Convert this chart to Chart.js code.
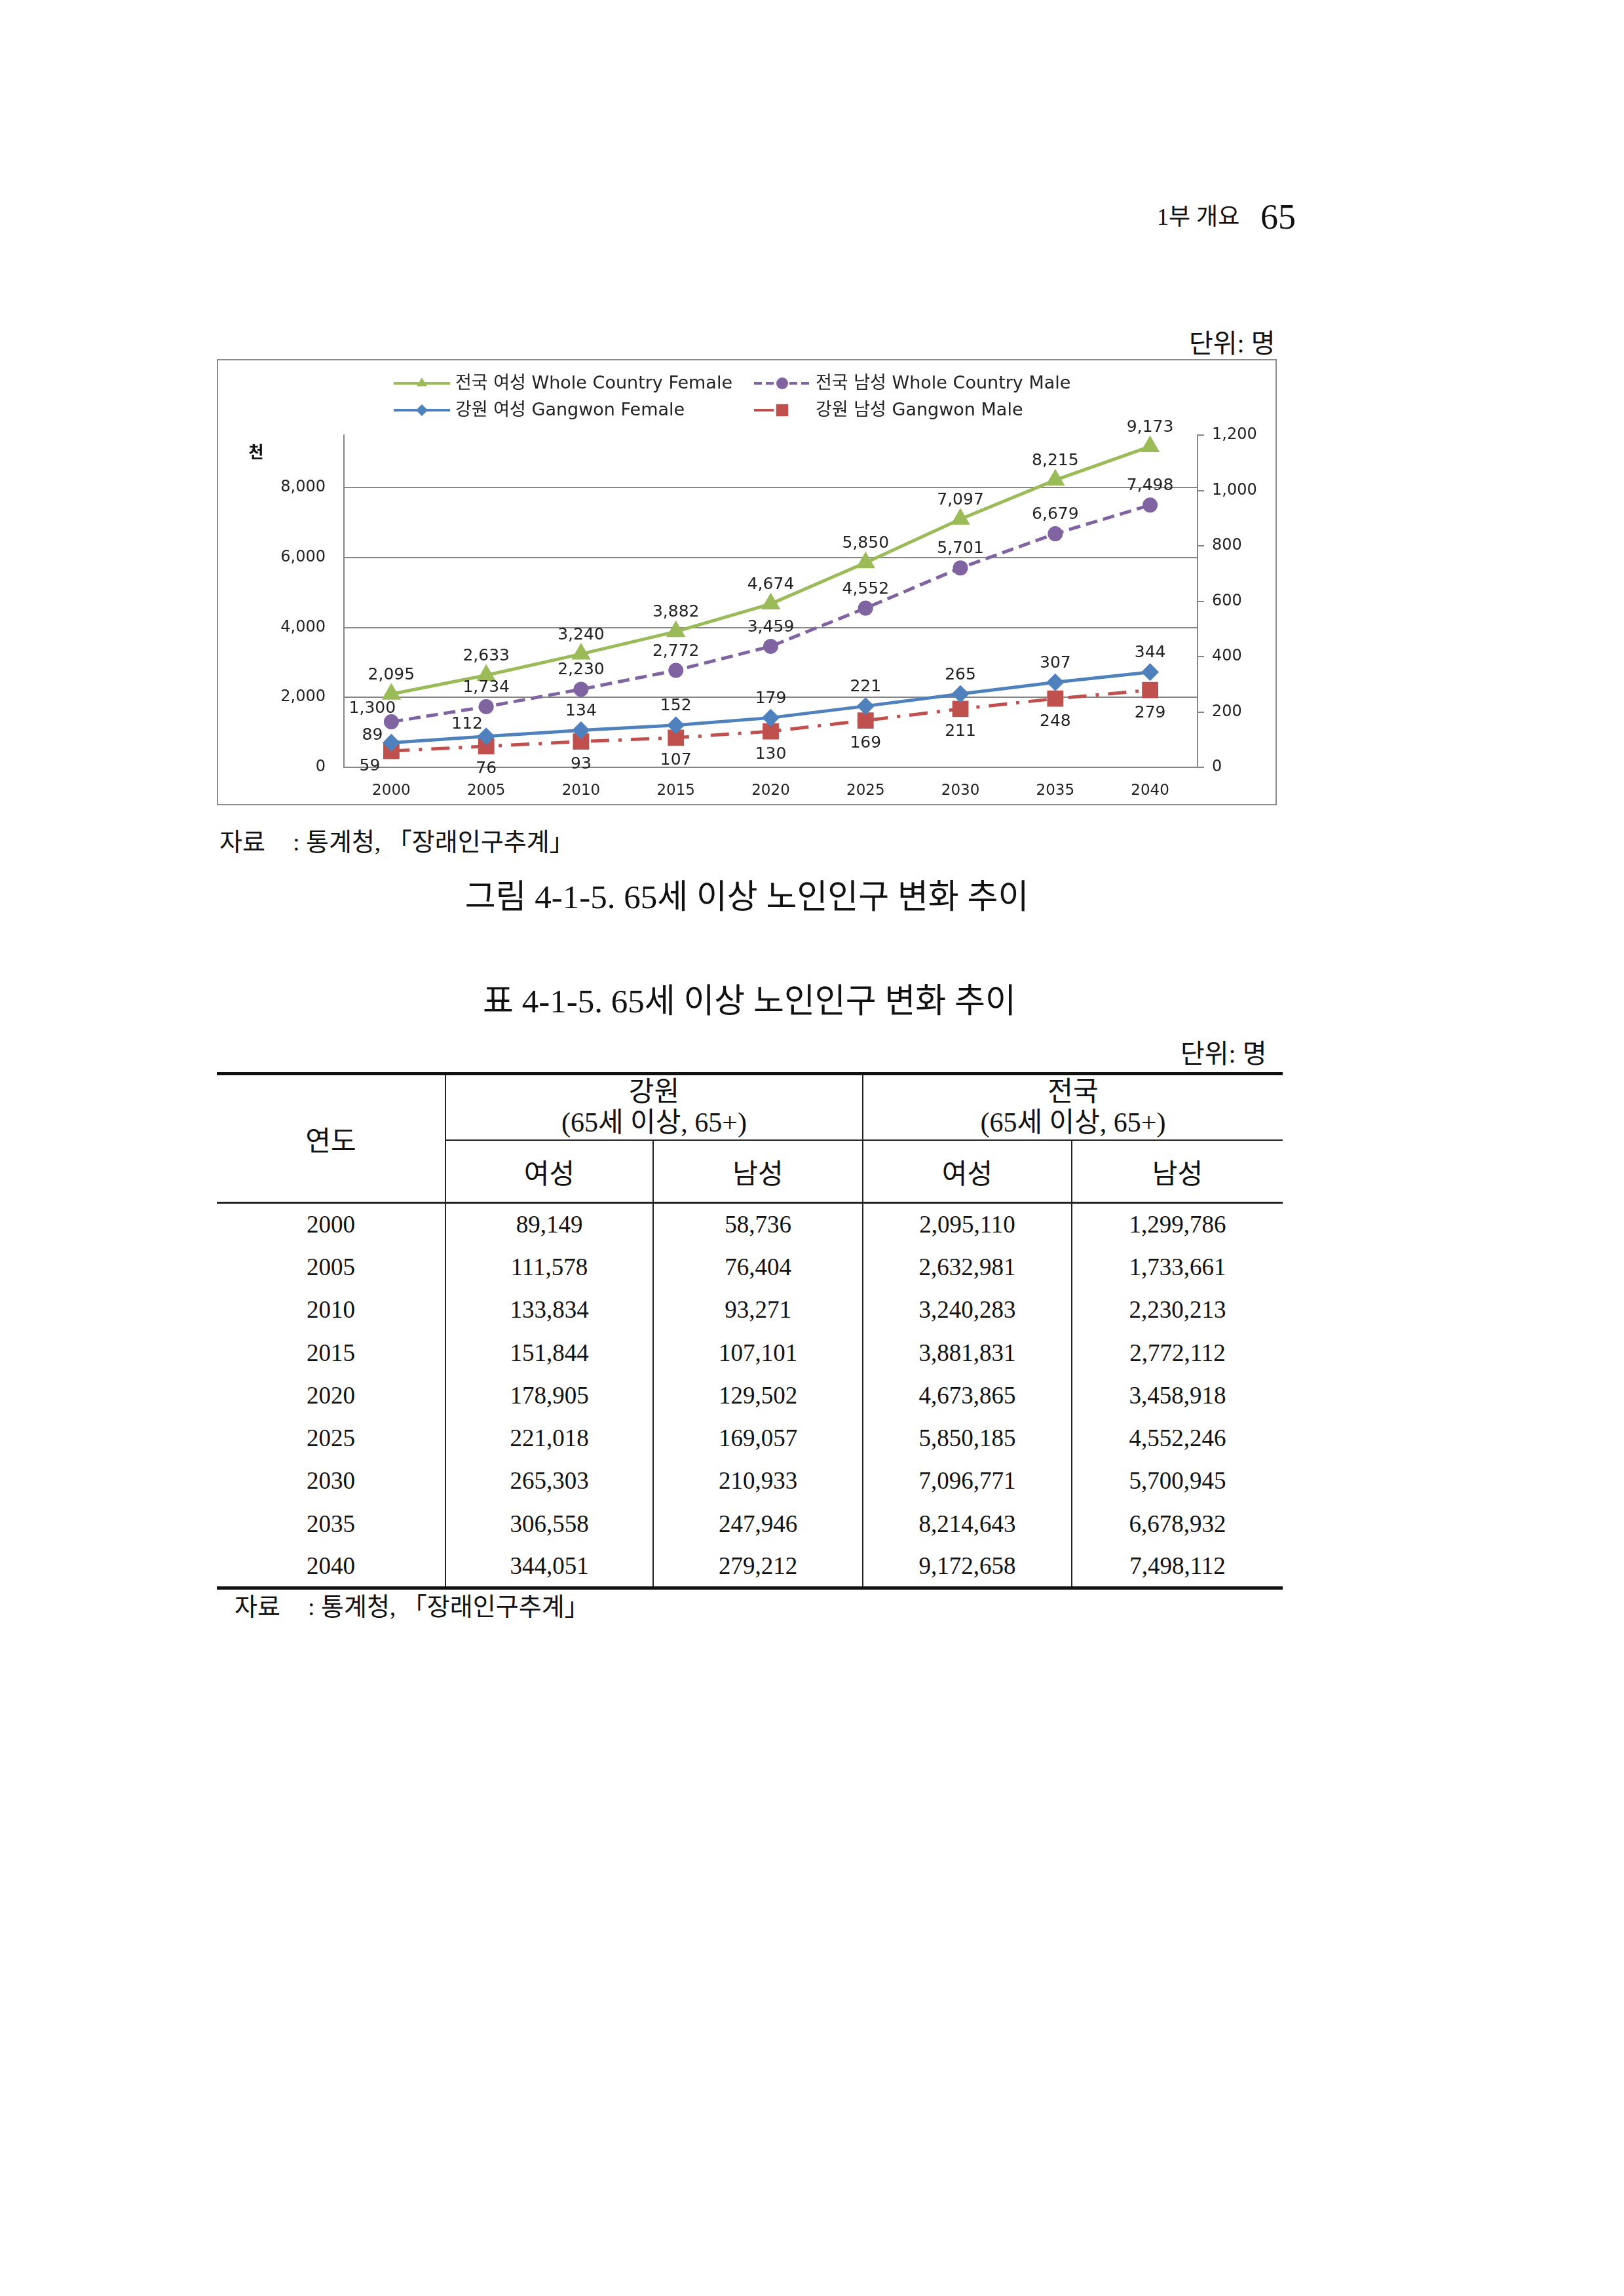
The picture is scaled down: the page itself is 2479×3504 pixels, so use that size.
<!DOCTYPE html>
<html>
<head>
  <meta charset="utf-8">
  <title>65세 이상 노인인구 변화 추이</title>
  <script src="https://cdn.jsdelivr.net/npm/chart.js"></script>
  <style>
    body { margin: 0; width: 2479px; height: 3504px; background: #fff; position: relative;
           font-family: "Liberation Serif", "Noto Sans CJK KR", serif; color: #111; }
    .t { position: absolute; white-space: nowrap; line-height: 1; }
    #box { position: absolute; left: 331px; top: 548px; width: 1618px; height: 681px;
           border: 2px solid #8c8c8c; box-sizing: border-box; }
    #chart { position: absolute; left: 0; top: 0; }
    table { position: absolute; left: 331px; top: 1636px; border-collapse: collapse; table-layout: fixed;
            font-family: "Liberation Serif", "Noto Sans CJK KR", serif; font-size: 37px; color: #111; }
    td { text-align: center; padding: 0; }
    .kh { font-size: 42px; }
    .vl { border-left: 2px solid #222; }
  </style>
</head>
<body>

<div class="t" style="left:1766px; top:313px; font-size:36px;">1부 개요</div>
<div class="t" style="left:1924px; top:304px; font-size:54px;">65</div>

<div class="t" style="left:1815px; top:505px; font-size:40px;">단위: 명</div>

<div id="box"><canvas id="chart" width="1614" height="677"></canvas></div>

<div class="t" style="left:335px; top:1266px; font-size:38px;">자료<span style="display:inline-block;width:42px"></span>: 통계청, 「장래인구추계」</div>
<div class="t" style="left:1140px; top:1344px; font-size:51px; transform:translateX(-50%);">그림 4-1-5. 65세 이상 노인인구 변화 추이</div>

<div class="t" style="left:1144px; top:1503px; font-size:51px; transform:translateX(-50%);">표 4-1-5. 65세 이상 노인인구 변화 추이</div>
<div class="t" style="left:1802px; top:1589px; font-size:40px;">단위: 명</div>

<table id="tbl">
  <colgroup>
    <col style="width:349px"><col style="width:317px"><col style="width:320px"><col style="width:319px"><col style="width:322px">
  </colgroup>
  <tr style="height:101px; border-top:5px solid #111;">
    <td rowspan="2" class="kh" style="border-bottom:3px solid #222;">연도</td>
    <td colspan="2" class="vl kh" style="border-bottom:2px solid #222; line-height:47px;">강원<br>(65세 이상, 65+)</td>
    <td colspan="2" class="vl kh" style="border-bottom:2px solid #222; line-height:47px;">전국<br>(65세 이상, 65+)</td>
  </tr>
  <tr style="height:96px;">
    <td class="vl kh" style="border-bottom:3px solid #222;">여성</td>
    <td class="vl kh" style="border-bottom:3px solid #222;">남성</td>
    <td class="vl kh" style="border-bottom:3px solid #222;">여성</td>
    <td class="vl kh" style="border-bottom:3px solid #222;">남성</td>
  </tr>
  <tbody id="rows"></tbody>
</table>

<div class="t" style="left:358px; top:2433px; font-size:38px;">자료<span style="display:inline-block;width:42px"></span>: 통계청, 「장래인구추계」</div>

<script>
  // 그래프 값 (천 명)
  const years = ['2000', '2005', '2010', '2015', '2020', '2025', '2030', '2035', '2040'];
  const countryFemale = [2095, 2633, 3240, 3882, 4674, 5850, 7097, 8215, 9173];
  const countryMale = [1300, 1734, 2230, 2772, 3459, 4552, 5701, 6679, 7498];
  const gangwonFemale = [89, 112, 134, 152, 179, 221, 265, 307, 344];
  const gangwonMale = [59, 76, 93, 107, 130, 169, 211, 248, 279];
  const leftTicks = [0, 2000, 4000, 6000, 8000];
  const rightTicks = [0, 200, 400, 600, 800, 1000, 1200];

  // 표 값 (명)
  const tblGangwonFemale = ['89,149', '111,578', '133,834', '151,844', '178,905', '221,018', '265,303', '306,558', '344,051'];
  const tblGangwonMale = ['58,736', '76,404', '93,271', '107,101', '129,502', '169,057', '210,933', '247,946', '279,212'];
  const tblCountryFemale = ['2,095,110', '2,632,981', '3,240,283', '3,881,831', '4,673,865', '5,850,185', '7,096,771', '8,214,643', '9,172,658'];
  const tblCountryMale = ['1,299,786', '1,733,661', '2,230,213', '2,772,112', '3,458,918', '4,552,246', '5,700,945', '6,678,932', '7,498,112'];

  const legendNames = ['전국 여성 Whole Country Female', '전국 남성 Whole Country Male', '강원 여성 Gangwon Female', '강원 남성 Gangwon Male'];

  // 표 만들기
  var rows = document.getElementById('rows');
  years.forEach(function (y, i) {
    var tr = document.createElement('tr');
    tr.style.height = (i === years.length - 1 ? 66 : 65.3) + 'px';
    if (i === years.length - 1) tr.style.borderBottom = '5px solid #111';
    var cells = [y, tblGangwonFemale[i], tblGangwonMale[i], tblCountryFemale[i], tblCountryMale[i]];
    cells.forEach(function (c, j) {
      var td = document.createElement('td');
      td.textContent = c;
      if (j > 0) td.className = 'vl';
      tr.appendChild(td);
    });
    rows.appendChild(tr);
  });

  const GREEN = '#9bbb59', PURPLE = '#8064a2', BLUE = '#4f81bd', RED = '#c0504d';
  const GRID = '#868686';
  const FONT = '"DejaVu Sans", "Noto Sans CJK KR", sans-serif';

  function marker(ctx, style, x, y, r, color) {
    ctx.save();
    ctx.fillStyle = color;
    ctx.setLineDash([]);
    ctx.beginPath();
    if (style === 'triangle') {
      ctx.moveTo(x, y - r);
      ctx.lineTo(x + r * 0.87, y + r * 0.5);
      ctx.lineTo(x - r * 0.87, y + r * 0.5);
    } else if (style === 'circle') {
      ctx.arc(x, y, r, 0, Math.PI * 2);
    } else if (style === 'rectRot') {
      ctx.moveTo(x, y - r); ctx.lineTo(x + r, y); ctx.lineTo(x, y + r); ctx.lineTo(x - r, y);
    } else {
      var s = r * 0.71;
      ctx.rect(x - s, y - s, s * 2, s * 2);
    }
    ctx.closePath();
    ctx.fill();
    ctx.restore();
  }

  function toTicks(list) {
    return list.map(function (v) { return { value: v }; });
  }

  // 범례, 단위, 데이터 레이블
  const extras = {
    id: 'extras',
    afterDraw(chart) {
      const ctx = chart.ctx;
      ctx.save();
      // 단위 '천'
      ctx.fillStyle = '#111';
      ctx.font = 'bold 25px "Noto Sans CJK KR"';
      ctx.textAlign = 'center';
      ctx.textBaseline = 'middle';
      ctx.fillText('천', 58, 139);

      // 범례
      const spots = [[268, 35], [818, 35], [268, 76], [818, 76]];
      chart.data.datasets.forEach(function (ds, i) {
        var x0 = spots[i][0], y0 = spots[i][1];
        ctx.strokeStyle = ds.borderColor;
        ctx.lineWidth = 4;
        ctx.setLineDash(ds.legendDash || []);
        ctx.beginPath();
        ctx.moveTo(x0, y0);
        ctx.lineTo(x0 + 86, y0);
        ctx.stroke();
        marker(ctx, ds.pointStyle, x0 + 43, y0, ds.pointStyle === 'rect' ? 13 : 9, ds.borderColor);
        ctx.fillStyle = '#222';
        ctx.font = '27px ' + FONT;
        ctx.textAlign = 'left';
        ctx.fillText(legendNames[i], x0 + 94, y0 + 1);
      });

      // 데이터 레이블
      ctx.font = '25px ' + FONT;
      ctx.textAlign = 'center';
      ctx.fillStyle = '#222';
      chart.data.datasets.forEach(function (ds, i) {
        var meta = chart.getDatasetMeta(i);
        meta.data.forEach(function (pt, j) {
          var off = (ds.labelShift && ds.labelShift[j]) || [0, ds.labelDy];
          ctx.fillText(ds.data[j].toLocaleString('en-US'), pt.x + off[0], pt.y + off[1]);
        });
      });
      ctx.restore();
    }
  };

  new Chart(document.getElementById('chart'), {
    type: 'line',
    data: {
      labels: years,
      datasets: [
        { label: legendNames[0], data: countryFemale, yAxisID: 'y', borderColor: GREEN, backgroundColor: GREEN,
          borderWidth: 5, pointStyle: 'triangle', pointRadius: 12, labelDy: -29 },
        { label: legendNames[1], data: countryMale, yAxisID: 'y', borderColor: PURPLE, backgroundColor: PURPLE,
          borderWidth: 5, borderDash: [18, 9], legendDash: [12, 6], pointStyle: 'circle', pointRadius: 9,
          labelDy: -29, labelShift: { 0: [-29, -20] } },
        { label: legendNames[2], data: gangwonFemale, yAxisID: 'y1', borderColor: BLUE, backgroundColor: BLUE,
          borderWidth: 5, pointStyle: 'rectRot', pointRadius: 10,
          labelDy: -29, labelShift: { 0: [-29, -11], 1: [-29, -18] } },
        { label: legendNames[3], data: gangwonMale, yAxisID: 'y1', borderColor: RED, backgroundColor: RED,
          borderWidth: 5, borderDash: [28, 14, 5, 14], legendDash: [30, 60], pointStyle: 'rect', pointRadius: 14,
          labelDy: 35, labelShift: { 0: [-33, 23] } }
      ]
    },
    options: {
      responsive: false,
      animation: false,
      layout: { padding: { top: 114, left: 0, right: 0, bottom: 0 } },
      plugins: { legend: { display: false }, tooltip: { enabled: false } },
      elements: { line: { tension: 0 }, point: { borderWidth: 1 } },
      scales: {
        x: {
          offset: true,
          grid: { display: false },
          border: { display: true, color: GRID, width: 2 },
          ticks: { color: '#222', font: { family: FONT, size: 23 }, padding: 14 },
          afterFit: function (s) { s.height = 56; }
        },
        y: {
          position: 'left',
          min: 0, max: 9500,
          grid: { color: GRID, lineWidth: 2, drawTicks: false },
          border: { display: true, color: GRID, width: 2 },
          ticks: { padding: 28, color: '#222', font: { family: FONT, size: 24 },
                   callback: function (v) { return v.toLocaleString('en-US'); } },
          afterBuildTicks: function (s) { s.ticks = toTicks(leftTicks); },
          afterFit: function (s) { s.width = 192; }
        },
        y1: {
          position: 'right',
          min: 0, max: 1200,
          grid: { drawOnChartArea: false, drawTicks: true, tickLength: 10, color: GRID, lineWidth: 2 },
          border: { display: true, color: GRID, width: 2 },
          ticks: { padding: 12, color: '#222', font: { family: FONT, size: 24 },
                   callback: function (v) { return v.toLocaleString('en-US'); } },
          afterBuildTicks: function (s) { s.ticks = toTicks(rightTicks); },
          afterFit: function (s) { s.width = 119; }
        }
      }
    },
    plugins: [extras]
  });
</script>

</body>
</html>
